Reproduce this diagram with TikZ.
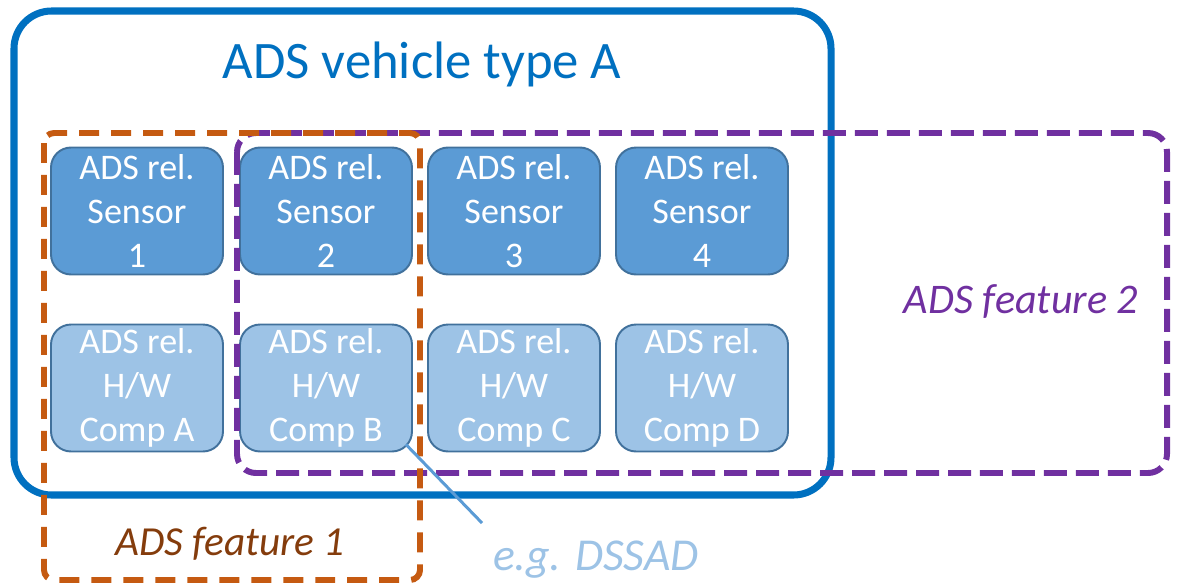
\documentclass[tikz,border=0pt]{standalone}
\usepackage{fontspec}
\setmainfont{Carlito}
\usetikzlibrary{calc}

\definecolor{blu}{HTML}{0070C0}
\definecolor{arancio}{HTML}{C55A11}
\definecolor{viola}{HTML}{7030A0}
\definecolor{marrone}{HTML}{843C0C}
\definecolor{sensore}{HTML}{5B9BD5}
\definecolor{hardware}{HTML}{9DC3E6}
\definecolor{bordo}{HTML}{41719C}

\tikzset{
  blocco/.style = {draw=bordo, line width=1.1pt, rounded corners=0.4cm,
    minimum width=3.44cm, minimum height=2.54cm, inner sep=0pt,
    align=center, text=white, font=\fontsize{20.5}{25}\selectfont},
  sens/.style = {blocco, fill=sensore},
  hw/.style = {blocco, fill=hardware}
}

\begin{document}
\begin{tikzpicture}[x=0.02cm, y=-0.02cm]
  \useasboundingbox (0,0) rectangle (1192,585);

  % Riquadro del veicolo
  \draw[blu, line width=4pt, rounded corners=0.75cm] (14,11) rectangle (831,495);
  \node[blu, font=\fontsize{30}{36}\selectfont] (titolo) at (422,64) {ADS vehicle type A};

  % Sensori (prima riga)
  \node[sens] (sens1) at (137,211) {ADS rel.\\Sensor\\1};
  \node[sens] (sens2) at (326,211) {ADS rel.\\Sensor\\2};
  \node[sens] (sens3) at (514,211) {ADS rel.\\Sensor\\3};
  \node[sens] (sens4) at (702,211) {ADS rel.\\Sensor\\4};

  % Componenti H/W (seconda riga)
  \node[hw] (compA) at (137,388) {ADS rel.\\H/W\\Comp A};
  \node[hw] (compB) at (326,388) {ADS rel.\\H/W\\Comp B};
  \node[hw] (compC) at (514,388) {ADS rel.\\H/W\\Comp C};
  \node[hw] (compD) at (702,388) {ADS rel.\\H/W\\Comp D};

  % Funzione 2 (tratteggio viola)
  \draw[viola, line width=3.4pt, dash pattern=on 0.46cm off 0.18cm, rounded corners=0.38cm]
    (237,133) rectangle (1167,473);
  \node[viola, font=\fontsize{24}{28}\itshape] (feat2) at (1021,302) {ADS feature 2};

  % Funzione 1 (tratteggio arancio)
  \draw[arancio, line width=3.4pt, dash pattern=on 0.4cm off 0.24cm, rounded corners=0.2cm]
    (44,133) rectangle (420,580);
  \node[marrone, font=\fontsize{23.5}{28}\itshape] (feat1) at (230,544) {ADS feature 1};

  % Esempio DSSAD
  \node[hardware, font=\fontsize{26}{30}\itshape] (dssad) at (596,560) {e.g. DSSAD};
  \coordinate (fine) at (482,523);
  \draw[sensore, line width=1.7pt] ($(compB.south east)+(-7,-8)$) -- (fine);
\end{tikzpicture}
\end{document}
